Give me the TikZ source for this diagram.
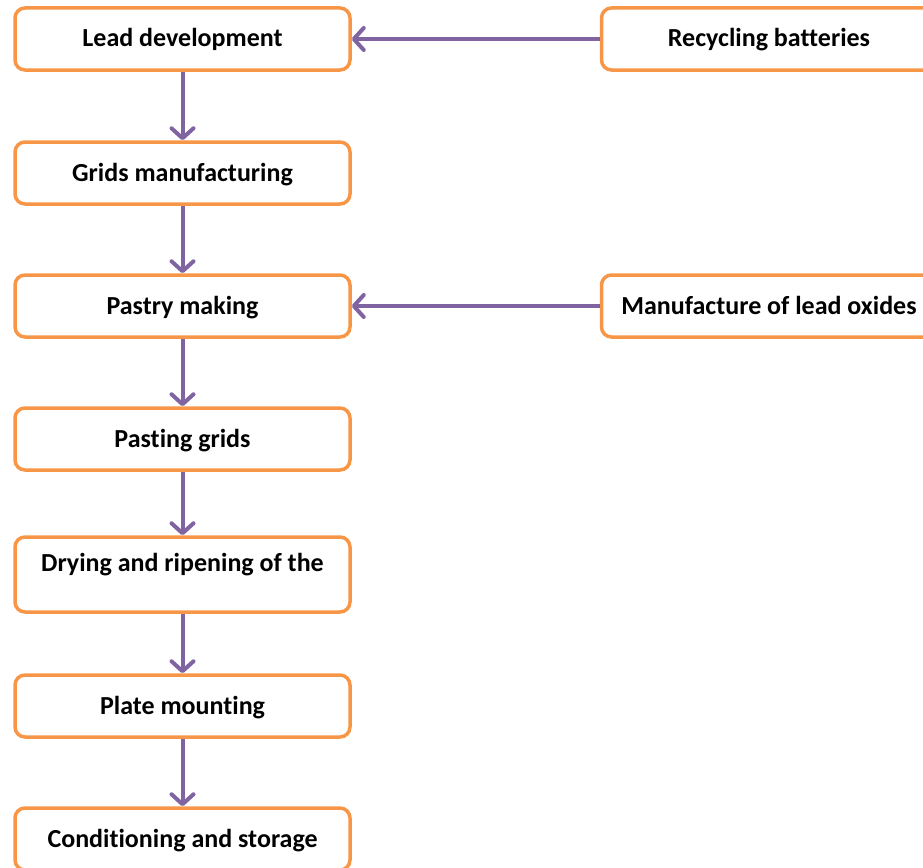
\documentclass[tikz,border=0pt]{standalone}
\usepackage{fontspec}
\setmainfont{Carlito}[Ligatures=NoCommon]
\usetikzlibrary{arrows.meta,positioning}
\definecolor{boxorange}{HTML}{F79646}
\definecolor{flowpurple}{HTML}{8064A2}

\begin{document}
\begin{tikzpicture}[x=1pt,y=-1pt,>={Straight Barb[length=10pt,width=22pt,round]},
    node font=\fontsize{26}{30}\selectfont\bfseries,
    stage/.style={draw=boxorange, line width=3.5pt, rounded corners=10pt, fill=white,
      minimum width=335pt, minimum height=62pt, inner sep=0pt,
      text height=21pt, text depth=5pt},
    flow/.style={->, draw=flowpurple, line width=4pt}]
    \useasboundingbox (0,0) rectangle (923,867);
    \pgfmathsetmacro{\cx}{182.5}
    \pgfmathsetmacro{\rx}{769}
    %
    % main line of the process
    \node[stage] (lead)     at (\cx,39)    {Lead development};
    \node[stage] (grids)    at (\cx,173)   {Grids manufacturing};
    \node[stage] (pastry)   at (\cx,306)   {Pastry making};
    \node[stage] (pasting)  at (\cx,439)   {Pasting grids};
    \node[stage, minimum height=75pt, text depth=26.6pt] (drying) at (\cx,574.5) {Drying and ripening of the};
    \node[stage] (mounting) at (\cx,706)   {Plate mounting};
    \node[stage] (storage)  at (\cx,839)   {Conditioning and storage};
    %
    % side inputs
    \node[stage] (recycling) at (\rx,39)  {Recycling batteries};
    \node[stage] (oxides)    at (\rx,306) {Manufacture of lead oxides};
    %
    \draw[flow] (lead) -- (grids);
    \draw[flow] (grids) -- (pastry);
    \draw[flow] (pastry) -- (pasting);
    \draw[flow] (pasting) -- (drying);
    \draw[flow] (drying) -- (mounting);
    \draw[flow] (mounting) -- (storage);
    \draw[flow] (recycling) -- (lead);
    \draw[flow] (oxides) -- (pastry);
\end{tikzpicture}
\end{document}
